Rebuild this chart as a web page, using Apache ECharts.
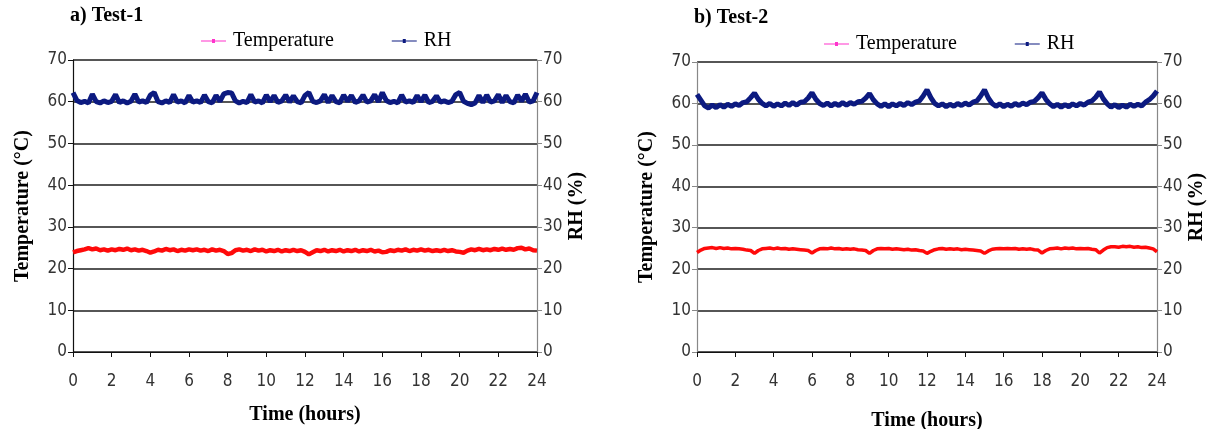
<!DOCTYPE html>
<html>
<head>
<meta charset="utf-8">
<script src="https://cdn.jsdelivr.net/npm/echarts@6/dist/echarts.min.js"></script>
<style>
html,body{margin:0;padding:0;background:#fff;}
#c{width:1214px;height:429px;}
</style>
</head>
<body>
<div id="c"></div>
<script>
// Sampling step of the recorded series (hours)
const STEP_HOURS = 0.2;
const xTicks = [0, 2, 4, 6, 8, 10, 12, 14, 16, 18, 20, 22, 24];
const yTicks = [0, 10, 20, 30, 40, 50, 60, 70];
const panelTitles = ['a) Test-1', 'b) Test-2'];
const seriesNames = ['Temperature', 'RH'];

// Test-1 RH (%)
const rh1 = [62.2,60.3,59.8,60.1,59.7, 61.8,60.0,59.7,60.2,59.8, 60.1,61.7,59.8,60.2,59.7, 60.1,61.8,59.9,60.2,59.8,
  61.6,62.2,60.0,59.7,60.2, 59.8,61.7,59.9,60.2,59.7, 61.5,59.9,60.2,59.8,61.6, 60.0,59.7,61.5,60.1,61.9,
  62.2,62.1,60.2,59.7,60.1, 59.8,61.7,59.9,60.2,59.7, 61.6,60.0,61.5,59.8,60.2, 61.6,59.9,61.4,60.0,59.7,
  61.5,62.2,60.1,59.8,60.2, 61.7,59.8,61.5,60.0,59.7, 61.6,60.1,61.5,59.8,60.2, 61.6,59.9,60.2,61.7,60.0,
  62.2,60.3,59.8,60.1,59.7, 61.6,59.9,60.2,59.8,61.5, 60.0,61.6,59.8,60.1,61.4, 59.9,60.2,59.8,60.1,61.7,
  62.2,60.1,59.6,59.3,59.7, 61.5,59.8,61.6,59.9,60.2, 61.7,59.8,61.5,60.0,59.7, 61.6,60.1,61.8,59.9,60.2,
  62.2];
// Test-1 Temperature (°C)
const temp1 = [23.9,24.2,24.4,24.6,24.9, 24.6,24.8,24.4,24.6,24.3, 24.6,24.4,24.7,24.5,24.8, 24.4,24.6,24.3,24.5,24.2,
  23.8,24.1,24.5,24.3,24.7, 24.4,24.6,24.2,24.5,24.3, 24.6,24.4,24.6,24.3,24.5, 24.2,24.6,24.3,24.5,24.2,
  23.5,23.7,24.4,24.6,24.3, 24.5,24.2,24.6,24.3,24.5, 24.1,24.4,24.2,24.5,24.1, 24.4,24.2,24.5,24.2,24.4,
  24.0,23.4,23.9,24.4,24.2, 24.5,24.1,24.4,24.2,24.5, 24.1,24.4,24.2,24.5,24.1, 24.4,24.2,24.5,24.1,24.3,
  23.9,24.0,24.4,24.2,24.5, 24.3,24.6,24.2,24.5,24.3, 24.6,24.3,24.5,24.2,24.4, 24.2,24.5,24.2,24.4,24.1,
  24.0,23.8,24.3,24.6,24.4, 24.7,24.4,24.6,24.4,24.7, 24.5,24.8,24.5,24.7,24.5, 24.9,25.0,24.6,24.8,24.4,
  24.3];
// Test-2 RH (%)
const rh2 = [62.2,60.8,59.4,58.9,59.6, 59.0,59.7,59.1,59.8,59.3, 59.9,59.5,60.2,60.4,61.4, 62.5,61.0,60.0,59.4,60.0,
  59.3,59.9,59.4,60.1,59.5, 60.2,59.6,60.3,60.4,61.3, 62.6,61.0,60.0,59.5,60.1, 59.4,60.0,59.5,60.2,59.6,
  60.2,59.8,60.4,60.5,61.3, 62.4,60.9,59.9,59.3,59.9, 59.2,59.9,59.4,60.0,59.5, 60.2,59.7,60.3,60.6,61.8,
  63.3,61.4,60.0,59.4,59.9, 59.2,59.8,59.3,60.0,59.5, 60.1,59.6,60.3,60.6,61.8, 63.3,61.3,60.0,59.3,59.9,
  59.2,59.8,59.3,60.0,59.5, 60.1,59.7,60.3,60.5,61.4, 62.6,61.0,59.9,59.2,59.8, 59.1,59.7,59.2,59.9,59.4,
  60.0,59.6,60.3,60.6,61.5, 62.8,61.1,59.9,59.1,59.7, 59.0,59.6,59.1,59.8,59.3, 59.8,59.4,60.3,60.9,61.8,
  63.0];
// Test-2 Temperature (°C)
const temp2 = [24.0,24.6,25.0,25.1,25.2, 25.0,25.2,25.0,25.1,24.9, 25.0,24.9,24.8,24.6,24.5, 23.8,24.5,24.9,25.0,25.1,
  24.9,25.1,24.9,25.0,24.8, 24.9,24.8,24.7,24.6,24.5, 23.9,24.5,24.9,25.0,24.9, 25.1,24.9,25.0,24.8,24.9,
  24.8,24.9,24.7,24.6,24.5, 23.8,24.5,24.9,25.0,24.9, 25.0,24.8,24.9,24.8,24.7, 24.8,24.6,24.7,24.5,24.4,
  23.8,24.3,24.7,24.9,25.0, 24.8,24.9,24.8,24.9,24.7, 24.8,24.7,24.6,24.5,24.4, 23.8,24.4,24.8,24.9,25.0,
  24.9,25.0,24.9,25.0,24.8, 24.9,24.8,24.9,24.7,24.6, 23.9,24.5,24.9,25.0,25.1, 24.9,25.1,25.0,25.1,24.9,
  25.0,24.9,25.0,24.8,24.7, 23.9,24.6,25.2,25.4,25.4, 25.3,25.5,25.4,25.5,25.3, 25.4,25.2,25.3,25.1,24.9,
  24.2];

const pairs = vals => vals.map((v, i) => [+(i * STEP_HOURS).toFixed(2), v]);

const TEMP_COLOR = '#ff0a0a';
const RH_COLOR = '#0c1a80';
const LEG_TEMP = '#ff33cc';
const serif = '"Liberation Serif","Times New Roman",serif';
const narrow = '"Liberation Sans Narrow","Arial Narrow","DejaVu Sans Condensed","Liberation Sans",sans-serif';
const legendIcon = 'path://M0,4.4H25V5.6H0Z M11,3H14V7H11Z';

const grids = [
  {left: 73, right: 677, top: 60, bottom: 77, containLabel: false, outerBoundsMode: 'none'},
  {left: 697, right: 57, top: 62, bottom: 77, containLabel: false, outerBoundsMode: 'none'}
];

function xAxis(gi, nameGap) {
  return {
    type: 'value', gridIndex: gi, min: 0, max: 24, interval: 2,
    name: 'Time (hours)', nameLocation: 'middle', nameGap: nameGap,
    nameTextStyle: {fontFamily: serif, fontWeight: 'bold', fontSize: 20, color: '#000'},
    axisLine: {show: true, onZero: false, lineStyle: {color: '#111', width: 1.2}},
    axisTick: {show: true, inside: false, length: 5, lineStyle: {color: '#111'}},
    axisLabel: {fontFamily: narrow, fontSize: 17, color: '#333', margin: 21,
      formatter: v => xTicks.includes(v) ? String(v) : ''},
    splitLine: {show: false}
  };
}
function yAxis(gi, pos, name, nameGap, axisColor, split) {
  return {
    type: 'value', gridIndex: gi, position: pos, min: 0, max: 70, interval: 10,
    name: name, nameLocation: 'middle', nameGap: nameGap, nameRotate: 90,
    nameTextStyle: {fontFamily: serif, fontWeight: 'bold', fontSize: 20, color: '#000'},
    axisLine: {show: true, lineStyle: {color: axisColor, width: 1.2}},
    axisTick: {show: true, inside: false, length: 5, lineStyle: {color: axisColor}},
    axisLabel: {fontFamily: narrow, fontSize: 17, color: '#333', margin: 6,
      formatter: v => yTicks.includes(v) ? String(v) : ''},
    splitLine: {show: split, lineStyle: {color: '#1e1e1e', width: 1.7}}
  };
}
function line(name, data, xi, yi, color, w) {
  return {
    name: name, type: 'line', xAxisIndex: xi, yAxisIndex: yi, data: pairs(data),
    showSymbol: false, symbol: 'none', animation: false,
    lineStyle: {color: color, width: w}, itemStyle: {color: color}
  };
}
function legend(left, top) {
  return {
    left: left, top: top, itemWidth: 25, itemHeight: 10, itemGap: 58, icon: legendIcon,
    textStyle: {fontFamily: serif, fontSize: 20, color: '#000', padding: [0, 0, 0, 2]},
    data: [
      {name: seriesNames[0], itemStyle: {color: LEG_TEMP}},
      {name: seriesNames[1], itemStyle: {color: RH_COLOR}}
    ]
  };
}

const chart = echarts.init(document.getElementById('c'), null, {renderer: 'canvas'});
chart.setOption({
  backgroundColor: '#fff',
  animation: false,
  title: [
    {text: panelTitles[0], left: 65, top: 1, textStyle: {fontFamily: serif, fontWeight: 'bold', fontSize: 20, color: '#000'}},
    {text: panelTitles[1], left: 689, top: 3, textStyle: {fontFamily: serif, fontWeight: 'bold', fontSize: 20, color: '#000'}}
  ],
  legend: [legend(196, 26), legend(819, 29)],
  grid: grids,
  xAxis: [xAxis(0, 53), xAxis(1, 59)],
  yAxis: [
    yAxis(0, 'left', 'Temperature (°C)', 40, '#111', true),
    yAxis(0, 'right', 'RH (%)', 30, '#888', false),
    yAxis(1, 'left', 'Temperature (°C)', 40, '#888', true),
    yAxis(1, 'right', 'RH (%)', 30, '#888', false)
  ],
  series: [
    line(seriesNames[0], temp1, 0, 0, TEMP_COLOR, 4.5),
    line(seriesNames[1], rh1, 0, 1, RH_COLOR, 5),
    line(seriesNames[0], temp2, 1, 2, TEMP_COLOR, 3.5),
    line(seriesNames[1], rh2, 1, 3, RH_COLOR, 5)
  ]
});
</script>
</body>
</html>
